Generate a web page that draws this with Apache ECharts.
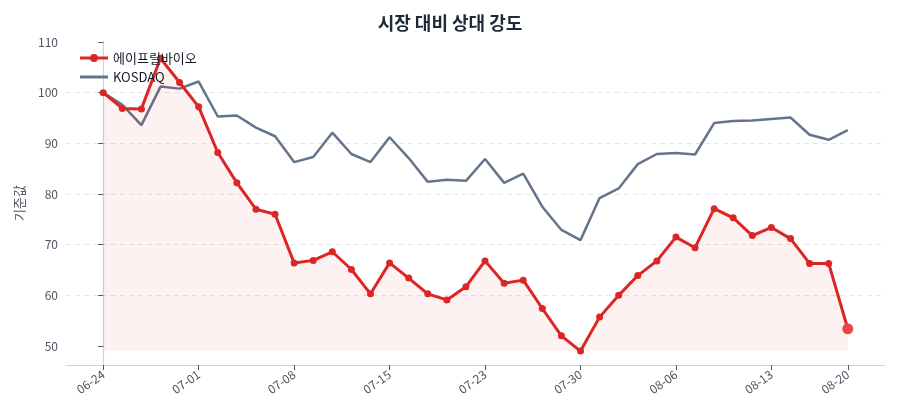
<!DOCTYPE html>
<html>
<head>
<meta charset="utf-8">
<script src="https://cdn.jsdelivr.net/npm/echarts@6/dist/echarts.min.js"></script>
<style>
  html, body { margin: 0; padding: 0; background: #fff; }
  #chart { width: 900px; height: 420px; }
</style>
</head>
<body>
<div id="chart"></div>
<script>
// trading days
var dates = ['06-24','06-25','06-26','06-27','06-28','07-01','07-02','07-03','07-04','07-05',
             '07-08','07-09','07-10','07-11','07-12','07-15','07-16','07-17','07-18','07-19',
             '07-23','07-24','07-25','07-26','07-29','07-30','07-31','08-01','08-02','08-05',
             '08-06','08-07','08-08','08-09','08-12','08-13','08-14','08-16','08-19','08-20'];
var stockName = '에이프릴바이오';
var indexName = 'KOSDAQ';
var stockVals = [100.0, 96.9, 96.8, 106.8, 102.0, 97.2, 88.2, 82.2, 77.0, 76.0,
                 66.4, 66.9, 68.6, 65.1, 60.3, 66.4, 63.4, 60.3, 59.1, 61.7,
                 66.8, 62.4, 63.0, 57.4, 52.0, 49.0, 55.7, 60.0, 63.9, 66.8,
                 71.5, 69.4, 77.1, 75.3, 71.8, 73.4, 71.2, 66.3, 66.3, 53.4];
var indexVals = [100.0, 97.6, 93.6, 101.2, 100.8, 102.2, 95.3, 95.5, 93.1, 91.4,
                 86.3, 87.3, 92.1, 87.9, 86.3, 91.2, 87.1, 82.4, 82.8, 82.6,
                 86.9, 82.2, 84.0, 77.5, 72.9, 70.9, 79.2, 81.1, 85.9, 87.9,
                 88.1, 87.8, 94.0, 94.4, 94.5, 94.8, 95.1, 91.7, 90.7, 92.6];
var xTicks = [0, 5, 10, 15, 20, 25, 30, 35, 39];
var yTicks = [50, 60, 70, 80, 90, 100, 110];

var red = '#dc2626';
var slate = '#64748b';
var font = '"Noto Sans CJK KR", "Noto Sans", sans-serif';

// legend icons: line only / line with a dot (corner specks keep the 28x14 box)
var lineIcon = 'path://M0,0h0.1v0.1H0z M0,5.6h28v2.8H0z M27.9,13.9h0.1v0.1h-0.1z';
var dotIcon = 'path://M0,0h0.1v0.1H0z M0,5.5h28v3H0z M27.9,13.9h0.1v0.1h-0.1z ' +
              'M10,7a4,4 0 1,1 8,0a4,4 0 1,1 -8,0z';

var stockData = stockVals.map(function (v, i) {
  if (i === stockVals.length - 1) {
    return { value: [i, v], symbolSize: 11, itemStyle: { color: '#ef4444' } };
  }
  return [i, v];
});
var indexData = indexVals.map(function (v, i) { return [i, v]; });
var n = dates.length - 1;

var myChart = echarts.init(document.getElementById('chart'));
var option = {
  animation: false,
  textStyle: { fontFamily: font },
  title: {
    text: '시장 대비 상대 강도',
    left: 'center',
    top: 9,
    textStyle: { fontSize: 18, fontWeight: 'bold', color: '#1f2937', fontFamily: font }
  },
  legend: {
    orient: 'vertical',
    left: 75,
    top: 46,
    itemWidth: 28,
    itemHeight: 14,
    itemGap: 5,
    textStyle: { fontSize: 13, color: '#111827' },
    data: [
      { name: stockName, icon: dotIcon },
      { name: indexName, icon: lineIcon }
    ]
  },
  grid: { left: 66, right: 15, top: 41, bottom: 55 },
  xAxis: {
    type: 'value',
    min: -n * 0.05,
    max: n * 1.05,
    axisLine: { lineStyle: { color: '#cbd5e1', width: 1.2 } },
    axisTick: { customValues: xTicks, length: 5, lineStyle: { color: '#4b5563' } },
    axisLabel: {
      customValues: xTicks,
      rotate: 35,
      fontSize: 12,
      color: '#4b5563',
      margin: 8,
      formatter: function (v) { return dates[Math.round(v)]; }
    },
    splitLine: { show: false }
  },
  yAxis: {
    type: 'value',
    min: 46.25,
    max: 110.2,
    name: '기준값',
    nameLocation: 'middle',
    nameGap: 40,
    nameTextStyle: { fontSize: 13, color: '#4b5563' },
    axisLine: { show: true, lineStyle: { color: '#cbd5e1', width: 1.2 } },
    axisTick: { show: true, customValues: yTicks, length: 5, lineStyle: { color: '#4b5563' } },
    axisLabel: { customValues: yTicks, fontSize: 12, color: '#4b5563', margin: 8 },
    splitLine: {
      show: true,
      showMinLine: false,
      showMaxLine: false,
      lineStyle: { color: '#e5e7eb', type: [5, 4], width: 1 }
    }
  },
  series: [
    {
      name: stockName,
      type: 'line',
      data: stockData,
      color: red,
      symbol: 'circle',
      symbolSize: 7,
      lineStyle: { width: 3, color: red },
      itemStyle: { color: red },
      areaStyle: { color: 'rgba(220,38,38,0.09)', origin: Math.min.apply(null, stockVals) },
      z: 3
    },
    {
      name: indexName,
      type: 'line',
      data: indexData,
      color: slate,
      showSymbol: false,
      symbol: 'none',
      lineStyle: { width: 2.5, color: slate },
      z: 2
    }
  ]
};
myChart.setOption(option);
</script>
</body>
</html>
